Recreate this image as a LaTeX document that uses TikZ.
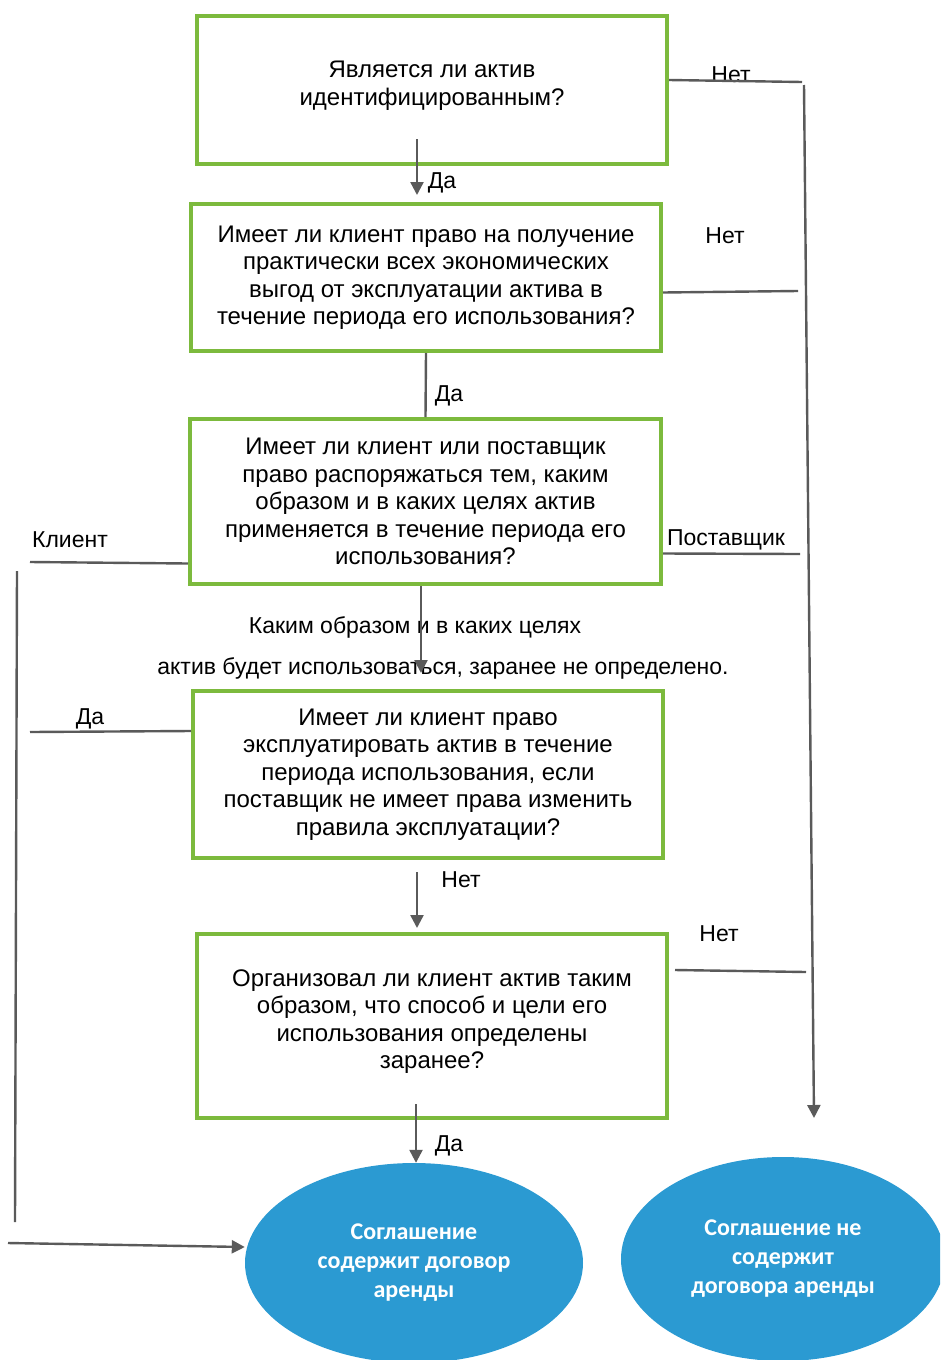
\documentclass[tikz,border=0pt]{standalone}
\usepackage{fontspec}
\setmainfont{Liberation Sans}
\newfontfamily\ovalfont{Carlito}
\usetikzlibrary{arrows.meta,shapes.geometric}
\definecolor{boxgreen}{RGB}{124,186,61}
\definecolor{ovalblue}{RGB}{43,154,210}
\definecolor{linegray}{RGB}{90,90,90}

\begin{document}
\begin{tikzpicture}[x=1pt,y=-1pt,
  question/.style={draw=boxgreen,line width=4pt,align=center,inner sep=0pt,
    minimum width=470pt,font=\fontsize{24}{27.5}\selectfont},
  outcome/.style={ellipse,fill=ovalblue,text=white,align=center,inner sep=0pt,
    font=\ovalfont\bfseries\fontsize{24}{29}\selectfont},
  link/.style={draw=linegray,line width=2.4pt},
  arrow/.style={link,-{Triangle[length=13pt,width=13pt]}},
  tag/.style={inner sep=0pt,font=\fontsize{23}{26}\selectfont}]
  \useasboundingbox (0,0) rectangle (940,1360);
  \clip (0,0) rectangle (940,1360);

  \node[question,minimum height=148pt] (q1) at (432,90)
    {Является ли актив\\идентифицированным?\\[-14pt]};
  \node[question,minimum height=147pt] (q2) at (426,277.5)
    {Имеет ли клиент право на получение\\практически всех экономических\\выгод от эксплуатации актива в\\течение периода его использования?};
  \node[question,minimum width=471pt,minimum height=165pt] (q3) at (425.5,501.5)
    {Имеет ли клиент или поставщик\\право распоряжаться тем, каким\\образом и в каких целях актив\\применяется в течение периода его\\использования?};
  \node[question,minimum height=167pt] (q4) at (428,774.5)
    {Имеет ли клиент право\\эксплуатировать актив в течение\\периода использования, если\\поставщик не имеет права изменить\\правила эксплуатации?};
  \node[question,minimum height=184pt] (q5) at (432,1026)
    {Организовал ли клиент актив таким\\образом, что способ и цели его\\использования определены\\заранее?\\[-13.5pt]};
  \node[outcome,minimum width=338pt,minimum height=200pt] (yes) at (414,1263)
    {Соглашение\\содержит договор\\аренды};
  \node[outcome,minimum width=324pt,minimum height=204pt] (no) at (783,1259)
    {Соглашение не\\содержит\\договора аренды};

  \node[tag] (n1) at (731,75) {Нет};
  \node[tag] (n2) at (725,236) {Нет};
  \node[tag] (s3) at (726,540) {Поставщик};
  \node[tag] (n5) at (719,934) {Нет};
  \node[tag] (c3) at (70,540) {Клиент};
  \node[tag] (d4) at (90,719) {Да};
  \node[tag] (d1) at (442,183) {Да};
  \node[tag] (d2) at (449,396) {Да};
  \node[tag] (n4) at (461,880) {Нет};
  \node[tag] (d5) at (449,1146) {Да};
  \node[tag] (m1) at (415,627) {Каким образом и в каких целях};
  \node[tag] (m2) at (443,668) {актив будет использоваться, заранее не определено.};

  \coordinate (r1) at (802,82);
  \coordinate (r2) at (798,291);
  \coordinate (r3) at (800,554);
  \coordinate (r5a) at (675,970);
  \coordinate (r5) at (806,972);
  \coordinate (rtop) at (804,85);
  \coordinate (rbot) at (814,1118);
  \coordinate (l3) at (30,562);
  \coordinate (l4) at (30,732);
  \coordinate (ltop) at (17,571);
  \coordinate (lbot) at (15,1222);
  \coordinate (lin) at (8,1243);

  \draw[arrow] ([xshift=-15pt,yshift=27pt]q1.south) -- ([xshift=-9pt,yshift=7pt]q2.north);
  \draw[link] (q2.south) -- (q3.north);
  \draw[arrow] ([xshift=-4.5pt]q3.south) -- ([xshift=-7pt,yshift=16pt]q4.north);
  \draw[arrow] ([xshift=-11pt,yshift=-12pt]q4.south) -- ([xshift=-15pt,yshift=4pt]q5.north);
  \draw[arrow] ([xshift=-16pt,yshift=16pt]q5.south) -- ([xshift=2pt]yes.north);

  \draw[link] ([yshift=10pt]q1.east) -- (r1);
  \draw[link] ([yshift=-15pt]q2.east) -- (r2);
  \draw[link] ([yshift=-52pt]q3.east) -- (r3);
  \draw[link] (r5a) -- (r5);
  \draw[arrow] (rtop) -- (rbot);

  \draw[link] ([yshift=-62pt]q3.west) -- (l3);
  \draw[link] ([yshift=43.5pt]q4.west) -- (l4);
  \draw[link] (ltop) -- (lbot);
  \draw[arrow] (lin) -- ([yshift=16pt]yes.west);
\end{tikzpicture}
\end{document}
